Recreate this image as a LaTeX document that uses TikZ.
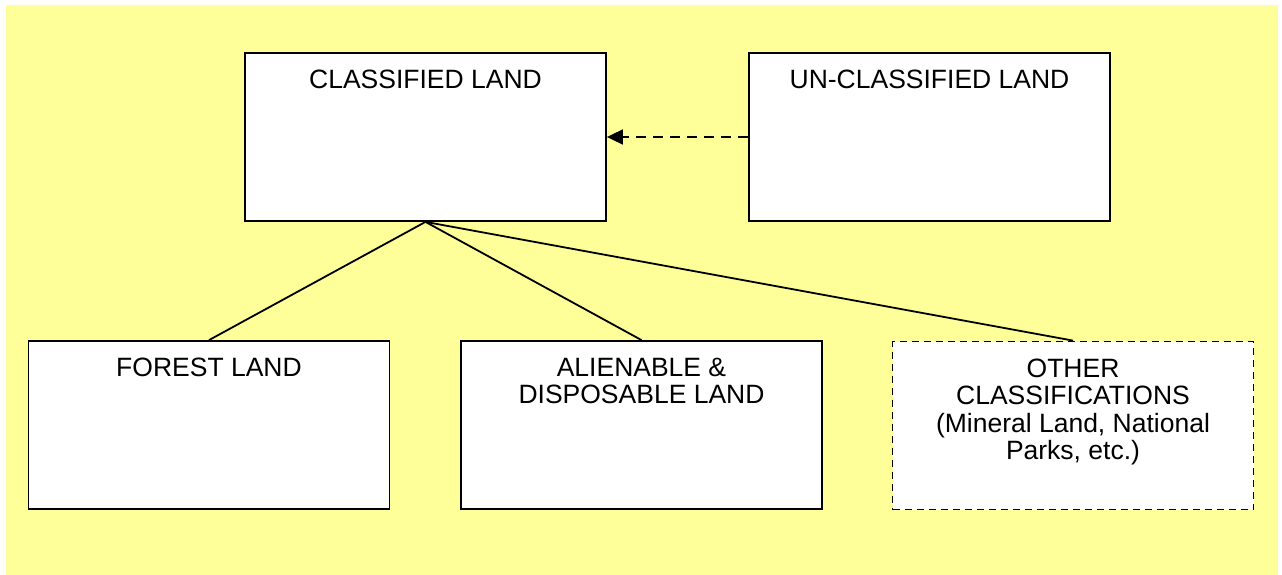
\documentclass[tikz,border=0pt]{standalone}
\usepackage{fontspec}
\setmainfont{Liberation Sans}
\usetikzlibrary{arrows.meta}
\definecolor{paleyellow}{RGB}{255,255,153}

\begin{document}
\begin{tikzpicture}[x=1pt,y=-1pt,line width=1.8pt,
	landbox/.style={draw,fill=white,rectangle,inner sep=0pt,
		minimum width=361pt,minimum height=168pt},
	landtext/.style={anchor=north,yshift=-17pt,inner sep=0pt,align=center,
		font=\fontsize{26.5}{27.6}\selectfont},
	boxdash/.style={dash pattern=on 7pt off 5pt},
	arrowdash/.style={dash pattern=on 10pt off 7pt}]

\useasboundingbox (0,0) rectangle (1282,575);
\fill[paleyellow] (6,5) rectangle (1278,575);

% upper row
\node[landbox,label={[landtext]north:CLASSIFIED LAND}] (classified) at (425.5,137) {};
\node[landbox,label={[landtext]north:UN-CLASSIFIED LAND}] (unclassified) at (929.5,137) {};

% lower row
\node[landbox,label={[landtext]north:FOREST LAND}] (forest) at (209,425) {};
\node[landbox,label={[landtext]north:{ALIENABLE \&\\DISPOSABLE LAND}}] (alienable) at (641.5,425) {};
\node[landbox,boxdash,label={[landtext]north:{OTHER\\CLASSIFICATIONS\\(Mineral Land, National\\Parks, etc.)}}] (other) at (1073,425.5) {};

\draw[arrowdash,-{Triangle[length=16pt,width=15pt]}] (unclassified.west) -- (classified.east);

\foreach \n in {forest,alienable,other}{
	\draw (classified.south) -- (\n.north);
}

\end{tikzpicture}
\end{document}
